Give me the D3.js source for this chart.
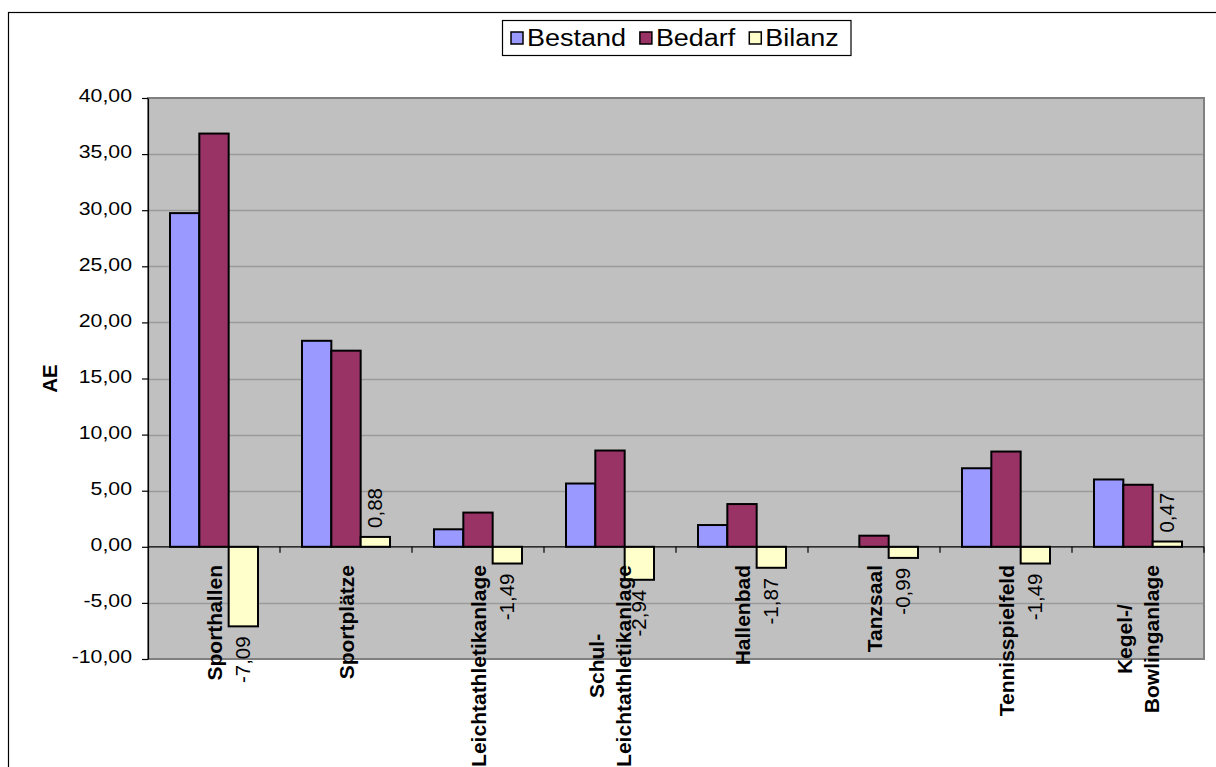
<!DOCTYPE html>
<html>
<head>
<meta charset="utf-8">
<script src="https://cdn.jsdelivr.net/npm/d3@7/dist/d3.min.js"></script>
<style>
  html, body { margin: 0; padding: 0; background: #ffffff; }
  svg { display: block; }
  text { font-family: "Liberation Sans", Arial, sans-serif; fill: #000; }
</style>
</head>
<body>
<svg id="chart" width="1216" height="767"></svg>
<script>
// Sportstätten: Bestand, Bedarf und Bilanz in Anlageneinheiten (AE)
const categories = [
  "Sporthallen",
  "Sportplätze",
  "Leichtathletikanlage",
  "Schul-\nLeichtathletikanlage",
  "Hallenbad",
  "Tanzsaal",
  "Tennisspielfeld",
  "Kegel-/\nBowlinganlage"
];
const seriesNames = ["Bestand", "Bedarf", "Bilanz"];
const bestand = [29.74, 18.36, 1.56, 5.64, 1.94, 0.00, 7.00, 6.00];
const bedarf  = [36.83, 17.48, 3.05, 8.58, 3.81, 0.99, 8.49, 5.53];
const bilanz  = [-7.09, 0.88, -1.49, -2.94, -1.87, -0.99, -1.49, 0.47];
const yTicks  = [-10, -5, 0, 5, 10, 15, 20, 25, 30, 35, 40];
const yTitle  = "AE";

const colors = { Bestand: "#9999FF", Bedarf: "#993366", Bilanz: "#FFFFCC" };

const locale = d3.formatLocale({ decimal: ",", thousands: ".", grouping: [3], currency: ["", " €"], minus: "-" });
const fmt = locale.format(".2f");

const svg = d3.select("#chart");
const plot = { left: 148, right: 1204, top: 98, bottom: 659 };

// outer chart frame
svg.append("rect")
  .attr("x", 8.5).attr("y", 12.5)
  .attr("width", 1260).attr("height", 800)
  .attr("fill", "#fff").attr("stroke", "#000").attr("stroke-width", 1.2);

const x = d3.scaleBand()
  .domain(categories)
  .range([plot.left, plot.right])
  .paddingInner(1 / 3)
  .paddingOuter(1 / 6);

const x1 = d3.scaleBand()
  .domain(seriesNames)
  .range([0, x.bandwidth()]);

const y = d3.scaleLinear()
  .domain([yTicks[0], yTicks[yTicks.length - 1]])
  .range([plot.bottom, plot.top]);

// plot area
svg.append("rect")
  .attr("x", plot.left).attr("y", plot.top)
  .attr("width", plot.right - plot.left).attr("height", plot.bottom - plot.top)
  .attr("fill", "#C0C0C0");

// horizontal gridlines
svg.append("g")
  .selectAll("line")
  .data(yTicks.filter(t => t !== 0 && t !== yTicks[0] && t !== yTicks[yTicks.length - 1]))
  .join("line")
  .attr("x1", plot.left).attr("x2", plot.right)
  .attr("y1", d => Math.round(y(d)) + 0.5).attr("y2", d => Math.round(y(d)) + 0.5)
  .attr("stroke", "#9a9a9a").attr("stroke-width", 1.3);

// plot border
svg.append("rect")
  .attr("x", plot.left).attr("y", plot.top)
  .attr("width", plot.right - plot.left).attr("height", plot.bottom - plot.top)
  .attr("fill", "none").attr("stroke", "#808080").attr("stroke-width", 2);

// bars
const rows = categories.map((c, i) => ({
  cat: c,
  values: [
    { key: "Bestand", value: bestand[i] },
    { key: "Bedarf", value: bedarf[i] },
    { key: "Bilanz", value: bilanz[i] }
  ]
}));

const groups = svg.append("g")
  .selectAll("g")
  .data(rows)
  .join("g")
  .attr("transform", d => `translate(${x(d.cat)},0)`);

groups.selectAll("rect")
  .data(d => d.values.filter(v => v.value !== 0))
  .join("rect")
  .attr("x", d => x1(d.key))
  .attr("width", x1.bandwidth())
  .attr("y", d => y(Math.max(0, d.value)))
  .attr("height", d => Math.abs(y(d.value) - y(0)))
  .attr("fill", d => colors[d.key])
  .attr("stroke", "#000")
  .attr("stroke-width", 2);

// category axis along the zero line
const step = x.step();
const boundaries = categories.map(c => x(c) - step * x.paddingInner() / 2);
boundaries.push(plot.right);
const y0 = y(0);
svg.append("line")
  .attr("x1", plot.left).attr("x2", plot.right)
  .attr("y1", y0).attr("y2", y0)
  .attr("stroke", "#000").attr("stroke-width", 1.2);
svg.append("g")
  .selectAll("line")
  .data(boundaries.slice(1))
  .join("line")
  .attr("x1", d => d).attr("x2", d => d)
  .attr("y1", y0).attr("y2", y0 + 6)
  .attr("stroke", "#000").attr("stroke-width", 1.2);

// value axis
const yAxis = svg.append("g")
  .attr("transform", `translate(${plot.left},0)`)
  .call(d3.axisLeft(y).tickValues(yTicks).tickFormat(fmt).tickSize(6).tickSizeOuter(0));
yAxis.select(".domain").attr("stroke", "#000").attr("stroke-width", 1.2);
yAxis.selectAll(".tick line").attr("stroke", "#000").attr("stroke-width", 1.2);
yAxis.selectAll(".tick text")
  .attr("font-family", "'Liberation Sans', Arial, sans-serif")
  .attr("font-size", 19)
  .attr("fill", "#000")
  .attr("x", -16 / 1.12)
  .attr("dy", "0.2em")
  .attr("transform", "scale(1.12,1)");

// axis title
svg.append("text")
  .attr("transform", `translate(57,${(plot.top + plot.bottom) / 2}) rotate(-90)`)
  .attr("text-anchor", "middle")
  .attr("font-size", 20.5)
  .attr("font-weight", "bold")
  .text(yTitle);

// category labels, rotated, ending just below the zero line
const labelFont = 21;
const lineGap = 27;
const catLabels = svg.append("g")
  .selectAll("g")
  .data(categories)
  .join("g")
  .attr("transform", c => `translate(${x(c) + x.bandwidth() / 2},565) rotate(-90)`);

catLabels.each(function (c) {
  const g = d3.select(this);
  const lines = c.split("\n");
  const texts = lines.map((ln, i) =>
    g.append("text")
      .attr("font-size", labelFont)
      .attr("font-weight", "bold")
      .attr("text-anchor", "middle")
      .attr("y", (i - (lines.length - 1) / 2) * lineGap + labelFont * 0.36)
      .text(ln)
  );
  const maxLen = d3.max(texts, t => t.node().getComputedTextLength());
  texts.forEach(t => t.attr("x", -maxLen / 2));
});

// value labels for the Bilanz series
const bx = x1("Bilanz") + x1.bandwidth() / 2;
svg.append("g")
  .selectAll("text")
  .data(categories.map((c, i) => ({ cat: c, value: bilanz[i] })))
  .join("text")
  .attr("transform", d => {
    const yy = d.value >= 0 ? y(d.value) - 9 : y(d.value) + 10;
    return `translate(${x(d.cat) + bx + 7},${yy}) rotate(-90)`;
  })
  .attr("text-anchor", d => d.value >= 0 ? "start" : "end")
  .attr("font-size", 20.5)
  .text(d => fmt(d.value));

// legend
const legend = svg.append("g");
legend.append("rect")
  .attr("x", 502.5).attr("y", 20.5)
  .attr("width", 348.5).attr("height", 35)
  .attr("fill", "#fff").attr("stroke", "#000").attr("stroke-width", 1.2);
const stretch = 1.1;
let lx = 511;
seriesNames.forEach(name => {
  legend.append("rect")
    .attr("x", lx).attr("y", 32)
    .attr("width", 12).attr("height", 12)
    .attr("fill", colors[name]).attr("stroke", "#000").attr("stroke-width", 1.5);
  const tx = lx + 16;
  const t = legend.append("text")
    .attr("x", tx / stretch).attr("y", 46.5)
    .attr("transform", `scale(${stretch},1)`)
    .attr("font-size", 24.5)
    .text(name);
  lx = tx + t.node().getComputedTextLength() * stretch + 14;
});
</script>
</body>
</html>
